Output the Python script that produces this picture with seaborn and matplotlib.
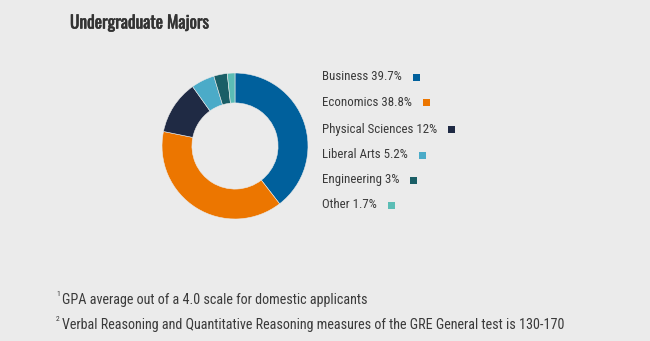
import matplotlib
matplotlib.use("Agg")
import matplotlib.pyplot as plt
import matplotlib.patheffects as pe
import seaborn as sns
from matplotlib.patches import Rectangle

# Share of undergraduate majors
majors = ["Business", "Economics", "Physical Sciences", "Liberal Arts", "Engineering", "Other"]
shares = [39.7, 38.8, 12, 5.2, 3, 1.7]
share_labels = ["39.7%", "38.8%", "12%", "5.2%", "3%", "1.7%"]
colors = ["#00609c", "#ec7600", "#1f2a44", "#4babc8", "#1a5e66", "#5bbdb5"]

footnotes = [
    ("1", "GPA average out of a 4.0 scale for domestic applicants"),
    ("2", "Verbal Reasoning and Quantitative Reasoning measures of the GRE General test is 130-170"),
]

BG = "#ebebeb"
TXT = "#3a3a3a"
BODY_FONT = ["Roboto Condensed", "DejaVu Sans"]
TITLE_FONT = ["Oswald", "Roboto Condensed", "DejaVu Sans"]

sns.set_theme(style="white")
plt.rcParams["font.family"] = BODY_FONT

W, H = 650, 341
fig = plt.figure(figsize=(W / 100, H / 100), dpi=100, facecolor=BG)

# Donut
cx, cy, r = 235, 146, 73
ax = fig.add_axes([(cx - r) / W, (H - cy - r) / H, 2 * r / W, 2 * r / H])
ax.set_facecolor(BG)
palette = sns.color_palette(colors)
ax.pie(shares, colors=palette, startangle=90, counterclock=False,
       wedgeprops=dict(width=0.41, edgecolor=BG, linewidth=0.4))
ax.set_aspect("equal")
ax.set_xlim(-1, 1)
ax.set_ylim(-1, 1)
ax.axis("off")

# Title (thin stroke to give the heavier heading weight)
fig.text(70 / W, 1 - 23 / H, "Undergraduate Majors", fontsize=12.5, family=TITLE_FONT,
         fontweight="bold", color="#333333", va="center", ha="left",
         path_effects=[pe.withStroke(linewidth=0.4, foreground="#333333")])

# Legend: label text followed by a colour square
fig.canvas.draw()
renderer = fig.canvas.get_renderer()
row_y = [77, 103, 129, 155, 180, 205]
for name, lab, col, y in zip(majors, share_labels, colors, row_y):
    t = fig.text(322 / W, 1 - y / H, f"{name} {lab}", fontsize=9.3, color=TXT,
                 va="center", ha="left")
    bb = t.get_window_extent(renderer)
    sx = bb.x1 + 11
    fig.patches.append(Rectangle((sx / W, (H - y - 3.5) / H), 7 / W, 7 / H,
                                 transform=fig.transFigure, facecolor=col,
                                 edgecolor="none", figure=fig))

# Footnotes
for (mark, note), y in zip(footnotes, [300, 325]):
    fig.text(56 / W, 1 - (y - 6) / H, mark, fontsize=5.5, color=TXT, va="center", ha="left")
    fig.text(62 / W, 1 - y / H, note, fontsize=10.2, color=TXT, va="center", ha="left")

fig.savefig("out.png", dpi=100, facecolor=BG)
